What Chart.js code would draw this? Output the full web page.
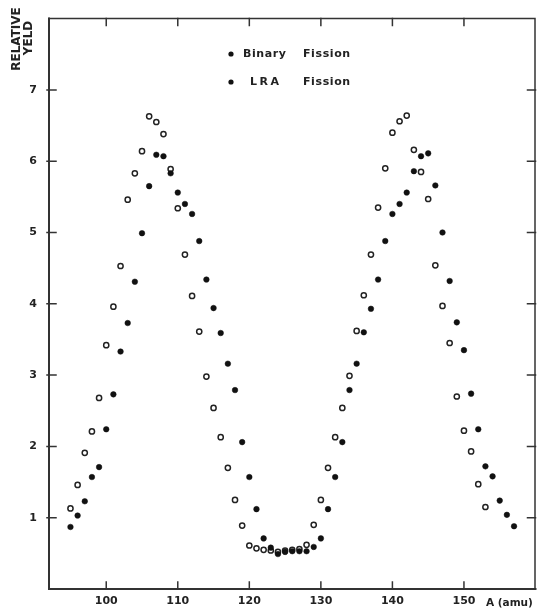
<!DOCTYPE html>
<html>
<head>
<meta charset="utf-8">
<title>Relative yield</title>
<script src="https://cdn.jsdelivr.net/npm/chart.js@4.4.0/dist/chart.umd.min.js"></script>
<style>
    html, body { margin: 0; padding: 0; background: #fff; }
    #wrap { width: 541px; height: 612px; position: relative; }
</style>
</head>
<body>
<div id="wrap"><canvas id="myChart"></canvas></div>
<script>
"use strict";

// mass numbers and yields
const binaryA = [95, 96, 97, 98, 99, 100, 101, 102, 103, 104, 105, 106, 107, 108, 109, 110,
    111, 112, 113, 114, 115, 116, 117, 118, 119, 120, 121, 122, 123, 124, 125, 126, 127, 128,
    129, 130, 131, 132, 133, 134, 135, 136, 137, 138, 139, 140, 141, 142, 143, 144, 145, 146,
    147, 148, 149, 150, 151, 152, 153, 154, 155, 156, 157];
const binaryYield = [0.87, 1.03, 1.23, 1.57, 1.71, 2.24, 2.73, 3.33, 3.73, 4.31, 4.99, 5.65,
    6.09, 6.07, 5.83, 5.56, 5.40, 5.26, 4.88, 4.34, 3.94, 3.59, 3.16, 2.79, 2.06, 1.57, 1.12,
    0.71, 0.58, 0.49, 0.52, 0.53, 0.53, 0.53, 0.59, 0.71, 1.12, 1.57, 2.06, 2.79, 3.16, 3.60,
    3.93, 4.34, 4.88, 5.26, 5.40, 5.56, 5.86, 6.07, 6.11, 5.66, 5.00, 4.32, 3.74, 3.35, 2.74,
    2.24, 1.72, 1.58, 1.24, 1.04, 0.88];

const lraA = [95, 96, 97, 98, 99, 100, 101, 102, 103, 104, 105, 106, 107, 108, 109, 110, 111,
    112, 113, 114, 115, 116, 117, 118, 119, 120, 121, 122, 123, 124, 125, 126, 127, 128, 129,
    130, 131, 132, 133, 134, 135, 136, 137, 138, 139, 140, 141, 142, 143, 144, 145, 146, 147,
    148, 149, 150, 151, 152, 153];
const lraYield = [1.13, 1.46, 1.91, 2.21, 2.68, 3.42, 3.96, 4.53, 5.46, 5.83, 6.14, 6.63, 6.55,
    6.38, 5.89, 5.34, 4.69, 4.11, 3.61, 2.98, 2.54, 2.13, 1.70, 1.25, 0.89, 0.61, 0.57, 0.55,
    0.54, 0.52, 0.54, 0.55, 0.56, 0.62, 0.90, 1.25, 1.70, 2.13, 2.54, 2.99, 3.62, 4.12, 4.69,
    5.35, 5.90, 6.40, 6.56, 6.64, 6.16, 5.85, 5.47, 4.54, 3.97, 3.45, 2.70, 2.22, 1.93, 1.47,
    1.15];

const xTicks = [100, 110, 120, 130, 140, 150];
const yTicks = [1, 2, 3, 4, 5, 6, 7];
const seriesNames = ['Binary', 'LRA'];

const ink = '#222';
const tickFont = { family: 'DejaVu Sans', size: 11, weight: 'bold' };

function toPoints(xs, ys) {
    return xs.map((x, i) => ({ x: x, y: ys[i] }));
}

// closed frame with inward ticks on all four sides
const framePlugin = {
    id: 'frame',
    afterDraw(chart) {
        const ctx = chart.ctx;
        const a = chart.chartArea;
        const xs = chart.scales.x, ys = chart.scales.y;
        ctx.save();
        ctx.strokeStyle = '#333';
        ctx.lineCap = 'square';

        ctx.lineWidth = 2;
        ctx.beginPath();
        ctx.moveTo(a.left, a.top);
        ctx.lineTo(a.left, a.bottom);
        ctx.lineTo(a.right, a.bottom);
        ctx.stroke();

        ctx.lineWidth = 1.5;
        ctx.beginPath();
        ctx.moveTo(a.left, a.top);
        ctx.lineTo(a.right - 0.5, a.top);
        ctx.lineTo(a.right - 0.5, a.bottom);
        ctx.stroke();

        ctx.lineWidth = 1.5;
        ctx.beginPath();
        xTicks.forEach(v => {
            const px = xs.getPixelForValue(v);
            ctx.moveTo(px, a.bottom);
            ctx.lineTo(px, a.bottom - 7);
            ctx.moveTo(px, a.top);
            ctx.lineTo(px, a.top + 7);
        });
        yTicks.forEach(v => {
            const py = ys.getPixelForValue(v);
            ctx.moveTo(a.left - 2, py);
            ctx.lineTo(a.left + 7, py);
            ctx.moveTo(a.right, py);
            ctx.lineTo(a.right - 8, py);
        });
        ctx.stroke();

        // axis titles
        ctx.fillStyle = ink;
        ctx.font = 'bold 10.5px "DejaVu Sans"';
        ctx.textAlign = 'left';
        ctx.textBaseline = 'middle';
        ctx.fillText('A (amu)', 486, 603);

        ctx.font = 'bold 12px "DejaVu Sans"';
        ctx.textAlign = 'center';
        ctx.save();
        ctx.translate(16.5, 39);
        ctx.rotate(-Math.PI / 2);
        ctx.fillText('RELATIVE', 0, 0);
        ctx.restore();
        ctx.save();
        ctx.translate(28.5, 38);
        ctx.rotate(-Math.PI / 2);
        ctx.fillText('YELD', 0, 0);
        ctx.restore();

        // legend inside the plot
        ctx.font = 'bold 11px "DejaVu Sans"';
        ctx.textAlign = 'left';
        const rows = [
            { y: 54, name: seriesNames[0], nameX: 243, sp: '0.6px' },
            { y: 82, name: seriesNames[1], nameX: 250, sp: '2.5px' }
        ];
        rows.forEach((r, i) => {
            const ds = chart.data.datasets[i];
            ctx.beginPath();
            ctx.arc(231, r.y, 2.6, 0, Math.PI * 2);
            ctx.fillStyle = '#111';
            ctx.fill();
            ctx.fillStyle = ink;
            ctx.letterSpacing = r.sp;
            ctx.fillText(r.name, r.nameX, r.y);
            ctx.letterSpacing = '0.6px';
            ctx.fillText('Fission', 303, r.y);
        });
        ctx.restore();
    }
};

const ctx = document.getElementById('myChart').getContext('2d');
const chart = new Chart(ctx, {
    type: 'scatter',
    data: {
        datasets: [
            {
                label: seriesNames[0] + ' Fission',
                data: toPoints(binaryA, binaryYield),
                pointRadius: 2.8,
                pointBackgroundColor: '#111',
                pointBorderColor: '#111',
                pointBorderWidth: 0.5
            },
            {
                label: seriesNames[1] + ' Fission',
                data: toPoints(lraA, lraYield),
                pointRadius: 2.6,
                pointBackgroundColor: '#fff',
                pointBorderColor: '#222',
                pointBorderWidth: 1.5
            }
        ]
    },
    options: {
        responsive: true,
        maintainAspectRatio: false,
        animation: false,
        layout: { padding: { top: 9, right: 1, left: 0, bottom: 0 } },
        plugins: {
            legend: { display: false },
            tooltip: { enabled: false }
        },
        scales: {
            x: {
                type: 'linear',
                min: 92,
                max: 160,
                grid: { display: false, drawTicks: false },
                border: { display: false },
                afterBuildTicks: s => { s.ticks = xTicks.map(v => ({ value: v })); },
                afterFit: s => { s.height = 23; },
                ticks: { color: ink, font: tickFont, padding: 6, maxRotation: 0 }
            },
            y: {
                type: 'linear',
                min: 0,
                max: 8,
                grid: { display: false, drawTicks: false },
                border: { display: false },
                afterBuildTicks: s => { s.ticks = yTicks.map(v => ({ value: v })); },
                afterFit: s => { s.width = 49; },
                ticks: { color: ink, font: tickFont, padding: 12 }
            }
        }
    },
    plugins: [framePlugin]
});
</script>
</body>
</html>
